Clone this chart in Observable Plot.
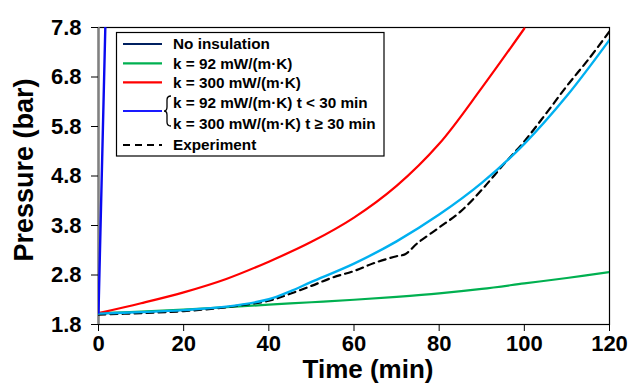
<!DOCTYPE html>
<html>
<head>
<meta charset="utf-8">
<script src="https://cdn.jsdelivr.net/npm/d3@7"></script>
<script src="https://cdn.jsdelivr.net/npm/@observablehq/plot@0.6"></script>
<style>
  html, body { margin: 0; padding: 0; background: #fff; }
  #chart { width: 630px; height: 385px; }
</style>
</head>
<body>
<div id="chart"></div>
<script>
const xTicks = [0, 20, 40, 60, 80, 100, 120];
const yTicks = [1.8, 2.8, 3.8, 4.8, 5.8, 6.8, 7.8];

const noInsT = [0, 1.6];
const noInsP = [2.04, 7.8];

const k92T = [0, 10, 20, 30, 40, 50, 60, 70, 80, 90, 100, 110, 120];
const k92P = [2.03, 2.06, 2.10, 2.15, 2.20, 2.25, 2.30, 2.36, 2.43, 2.52, 2.63, 2.74, 2.86];

const k300T = [0, 10, 20, 30, 40, 50, 60, 70, 80, 90, 100];
const k300P = [2.03, 2.23, 2.45, 2.72, 3.07, 3.47, 3.96, 4.60, 5.45, 6.58, 7.78];

const combT = [0, 10, 20, 30, 40, 45, 50, 60, 70, 80, 90, 100, 110, 120];
const combP = [2.02, 2.05, 2.09, 2.16, 2.31, 2.47, 2.66, 3.03, 3.48, 4.02, 4.66, 5.45, 6.42, 7.55];

const expT = [0, 10, 20, 30, 40, 45, 50, 55, 60, 65, 70, 72, 75, 80, 85, 90, 95, 100, 105, 110, 115, 120];
const expP = [2.00, 2.03, 2.07, 2.15, 2.28, 2.42, 2.58, 2.75, 2.88, 3.05, 3.18, 3.22, 3.45, 3.76, 4.08, 4.52, 5.02, 5.50, 6.05, 6.62, 7.15, 7.72];

const legendLabels = ["No insulation", "k = 92 mW/(m·K)", "k = 300 mW/(m·K)", "k = 92 mW/(m·K) t < 30 min", "k = 300 mW/(m·K) t ≥ 30 min", "Experiment"];

const toRows = (T, P) => T.map((t, i) => ({t, p: P[i]}));

const lineOpts = {x: "t", y: "p", strokeWidth: 2.2, clip: true, curve: "catmull-rom"};

const chart = Plot.plot({
  width: 630,
  height: 385,
  marginLeft: 98,
  marginRight: 21,
  marginTop: 27,
  marginBottom: 61,
  style: {fontFamily: "'Liberation Sans', Arial, sans-serif", fontSize: "22px", fontWeight: "bold", color: "#000", background: "#fff"},
  x: {domain: [xTicks[0], xTicks[xTicks.length - 1]]},
  y: {domain: [yTicks[0], yTicks[yTicks.length - 1]]},
  marks: [
    Plot.frame({stroke: "#000", strokeWidth: 1.2}),
    Plot.ruleX([xTicks[0]], {stroke: "#808080", strokeWidth: 2.5}),
    Plot.axisX({ticks: xTicks, tickSize: 7, tickPadding: 4, label: null, tickFormat: d3.format("d")}),
    Plot.axisY({ticks: yTicks, tickSize: 7, tickPadding: 10, label: null, tickFormat: d3.format(".1f")}),
    Plot.line(toRows(k92T, k92P), {...lineOpts, stroke: "#00b050"}),
    Plot.line(toRows(k300T, k300P), {...lineOpts, stroke: "#ff0000"}),
    Plot.line(toRows(expT, expP), {...lineOpts, stroke: "#000", strokeDasharray: "7,5", strokeWidth: 2.2}),
    Plot.line(toRows(combT, combP), {...lineOpts, stroke: "#00b0f0", strokeWidth: 2.4}),
    Plot.line(toRows(noInsT, noInsP), {x: "t", y: "p", stroke: "#0a0af0", strokeWidth: 2.4, clip: true}),
    Plot.text(["Time (min)"], {frameAnchor: "bottom", textAnchor: "middle", dx: 14, dy: 45, fontSize: 26, fontWeight: "bold", lineAnchor: "middle"}),
    Plot.text(["Pressure (bar)"], {frameAnchor: "left", textAnchor: "middle", dx: -74, dy: -6, rotate: -90, fontSize: 27, fontWeight: "bold", lineAnchor: "middle"})
  ]
});

document.getElementById("chart").appendChild(chart);

// Legend (pixel layout)
const svg = d3.select(chart);
const lg = svg.append("g")
  .attr("font-family", "'Liberation Sans', Arial, sans-serif")
  .attr("font-size", 15.3).attr("font-weight", "bold")
  .attr("text-anchor", "start");
lg.append("rect").attr("x", 116.5).attr("y", 32.5).attr("width", 267.5).attr("height", 123.5).attr("fill", "#fff").attr("stroke", "#000").attr("stroke-width", 1.2);
const rowY = [44, 63.3, 82.3, 102.5, 123.3, 145];
const sw = [
  {y: rowY[0], stroke: "#002060", dash: null},
  {y: rowY[1], stroke: "#00b050", dash: null},
  {y: rowY[2], stroke: "#ff0000", dash: null},
  {y: 111, stroke: "#1a1aff", dash: null},
  {y: rowY[5], stroke: "#000", dash: "7,5"}
];
sw.forEach(s => {
  lg.append("line").attr("x1", 123).attr("x2", 162).attr("y1", s.y).attr("y2", s.y)
    .attr("stroke", s.stroke).attr("stroke-width", 2.2).attr("stroke-dasharray", s.dash);
});
// brace
lg.append("path")
  .attr("d", "M171,96 Q167,96 167,100 L167,107 Q167,111 164,111 Q167,111 167,115 L167,122 Q167,126 171,126")
  .attr("fill", "none").attr("stroke", "#000").attr("stroke-width", 1.3);
legendLabels.forEach((t, i) => {
  lg.append("text").attr("x", 173).attr("y", rowY[i]).attr("dy", "0.35em").attr("text-anchor", "start").text(t);
});
</script>
</body>
</html>
